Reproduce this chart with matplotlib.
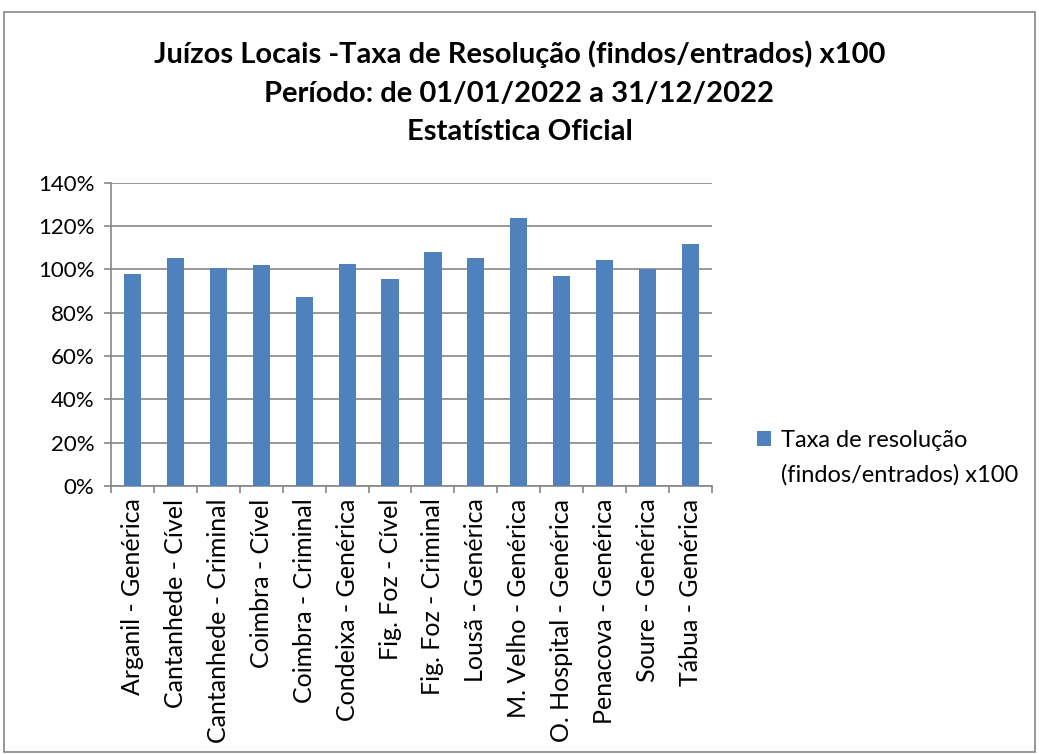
import matplotlib.pyplot as plt
import matplotlib.patches as patches
from matplotlib.ticker import FixedLocator, PercentFormatter

categories = [
    "Arganil - Genérica", "Cantanhede - Cível", "Cantanhede - Criminal",
    "Coimbra - Cível", "Coimbra - Criminal", "Condeixa - Genérica",
    "Fig. Foz - Cível", "Fig. Foz - Criminal", "Lousã - Genérica",
    "M. Velho - Genérica", "O. Hospital - Genérica", "Penacova - Genérica",
    "Soure - Genérica", "Tábua - Genérica",
]
taxa = [97.9, 105.2, 100.5, 102.2, 87.3, 102.7, 95.6,
        107.8, 105.3, 123.6, 97.0, 104.4, 100.1, 111.8]
series_label = ["Taxa de resolução", "(findos/entrados) x100"]
title = ("Juízos Locais -Taxa de Resolução (findos/entrados) x100\n"
         "Período: de 01/01/2022 a 31/12/2022\n"
         "Estatística Oficial")

plt.rcParams["font.family"] = ["Lato", "DejaVu Sans"]
grid_col = "#868686"
bar_col = "#4F81BD"

fig = plt.figure(figsize=(10.39, 7.54), dpi=100)
# outer chart border
fig.patches.append(patches.Rectangle((4 / 1039, 0.002), 1 - 8 / 1039, 1 - 12 / 754 - 0.002,
                                     transform=fig.transFigure, fill=False,
                                     edgecolor=grid_col, linewidth=1.2))

ax = fig.add_axes([111 / 1039, 1 - 486 / 754, (712 - 111) / 1039, (486 - 182.7) / 754])
x = list(range(len(categories)))
ax.bar(x, taxa, width=0.4, color=bar_col, zorder=3, label=series_label[0])

ax.set_xlim(-0.5, len(categories) - 0.5)
ax.set_ylim(0, 140)
ax.set_yticks(range(0, 141, 20))
ax.yaxis.set_major_formatter(PercentFormatter(decimals=0))
ax.yaxis.grid(True, color=grid_col, linewidth=1.2, zorder=0)

ax.set_xticks(x)
ax.set_xticklabels(categories, rotation=90, fontsize=18)
ax.xaxis.set_minor_locator(FixedLocator([i - 0.5 for i in range(len(categories) + 1)]))
ax.tick_params(axis="x", which="major", length=0, pad=9)
ax.tick_params(axis="x", which="minor", length=5, color=grid_col, width=1.2)
ax.tick_params(axis="y", length=5, color=grid_col, width=1.2, labelsize=16, pad=7)

for side in ["top", "right"]:
    ax.spines[side].set_visible(False)
for side in ["left", "bottom"]:
    ax.spines[side].set_color(grid_col)
    ax.spines[side].set_linewidth(1.2)

fig.text(0.5, 1 - 93 / 754, title, ha="center", va="center", fontsize=21,
         fontweight="bold", linespacing=1.6)

# legend: first line with the swatch, second line placed under it
leg = ax.legend(loc="center left", bbox_to_anchor=(1.04, 0.15), frameon=False,
                fontsize=17, handlelength=0.6, handleheight=0.6, handletextpad=0.4)
fig.canvas.draw()
bb = leg.get_texts()[0].get_window_extent().transformed(fig.transFigure.inverted())
fig.text(bb.x0, bb.y0 - 35 / 754, series_label[1], fontsize=17, ha="left", va="bottom")

fig.savefig("out.png", dpi=100)
